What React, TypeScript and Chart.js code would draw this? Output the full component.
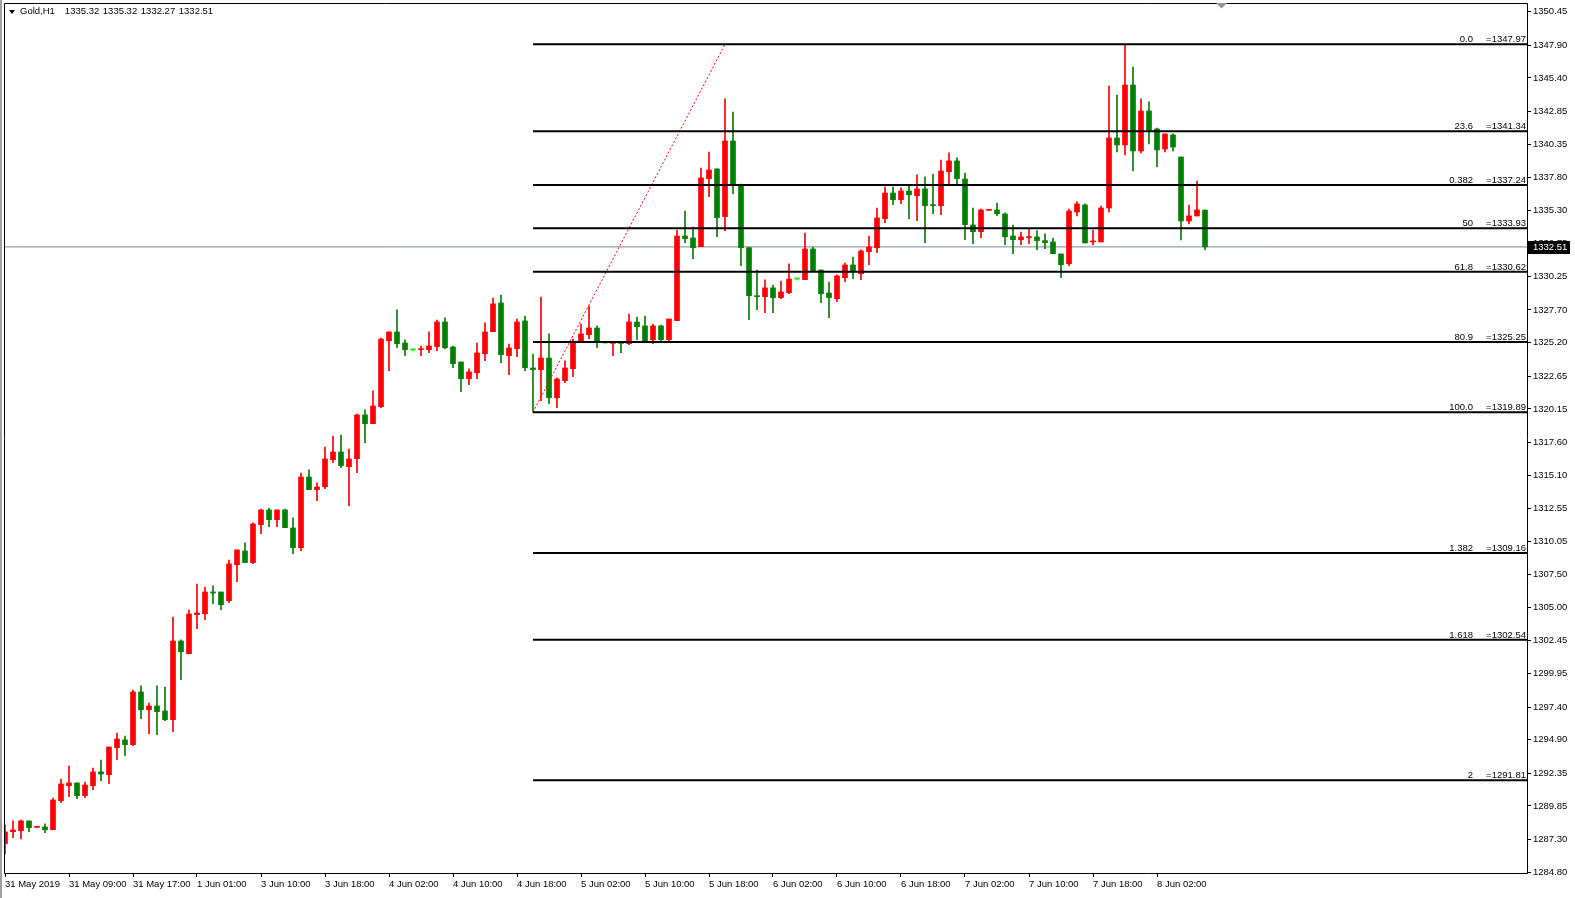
import React, { useEffect, useRef } from "react";
import { Chart, registerables } from "chart.js";

Chart.register(...registerables);

// ---- data ----
const opens = [
  1286.98, 1287.89, 1287.97, 1288.71, 1288.22, 1288.25, 1288.04, 1290.26, 1291.40, 1291.61,
  1290.64, 1291.40, 1292.45, 1292.24, 1294.30, 1294.89, 1294.53, 1298.55, 1297.20, 1297.48,
  1297.10, 1296.44, 1302.44, 1301.47, 1304.45, 1304.52, 1306.18, 1306.18, 1305.52, 1308.26,
  1309.31, 1308.42, 1311.32, 1312.44, 1311.70, 1312.44, 1311.06, 1309.56, 1314.95, 1313.99,
  1314.21, 1316.27, 1316.86, 1315.74, 1316.35, 1319.69, 1319.02, 1320.32, 1325.35, 1326.02,
  1325.18, 1324.65, 1324.67, 1324.67, 1324.90, 1326.78, 1324.87, 1323.73, 1322.46, 1322.91,
  1324.36, 1326.04, 1328.23, 1324.21, 1324.74, 1326.86, 1323.27, 1323.14, 1324.03, 1321.01,
  1322.30, 1323.22, 1325.28, 1325.81, 1326.32, 1325.18, 1325.15, 1325.20, 1325.13, 1326.78,
  1326.48, 1325.43, 1326.48, 1325.43, 1326.88, 1333.34, 1333.19, 1332.53, 1337.72, 1338.46,
  1334.82, 1340.59, 1337.16, 1332.45, 1328.79, 1328.71, 1329.38, 1328.64, 1329.02, 1330.06,
  1330.01, 1332.35, 1330.75, 1328.99, 1328.56, 1330.16, 1331.13, 1330.47, 1332.15, 1332.45,
  1334.66, 1336.62, 1336.11, 1336.78, 1336.42, 1336.93, 1335.71, 1335.66, 1338.25, 1339.07,
  1337.69, 1334.18, 1333.67, 1335.30, 1335.33, 1335.02, 1333.34, 1333.06, 1333.22, 1333.27,
  1332.99, 1332.89, 1331.97, 1331.23, 1335.17, 1335.71, 1332.89, 1332.89, 1335.48, 1340.82,
  1340.29, 1344.86, 1339.83, 1342.88, 1341.51, 1339.98, 1341.05, 1339.37, 1334.49, 1334.87,
  1335.32,
];
const highs = [
  1288.40, 1288.71, 1288.78, 1288.71, 1288.25, 1288.48, 1290.46, 1291.91, 1292.90, 1291.61,
  1291.68, 1292.75, 1293.36, 1294.35, 1295.42, 1295.19, 1298.70, 1299.01, 1297.71, 1299.01,
  1298.93, 1304.27, 1302.52, 1304.81, 1306.79, 1306.56, 1306.64, 1306.18, 1308.62, 1309.39,
  1309.92, 1311.45, 1312.51, 1312.59, 1312.44, 1312.51, 1311.83, 1315.26, 1315.49, 1314.50,
  1317.24, 1318.08, 1318.16, 1317.09, 1319.76, 1320.07, 1321.52, 1325.56, 1326.02, 1327.70,
  1325.41, 1324.72, 1324.95, 1326.02, 1326.93, 1327.09, 1324.95, 1323.73, 1323.20, 1325.18,
  1326.71, 1328.61, 1328.84, 1325.10, 1327.01, 1327.24, 1324.34, 1328.69, 1325.87, 1322.51,
  1323.81, 1325.48, 1326.63, 1328.00, 1326.48, 1325.25, 1325.20, 1325.20, 1327.39, 1327.16,
  1327.24, 1326.63, 1326.55, 1327.01, 1333.80, 1335.25, 1334.03, 1338.53, 1339.75, 1338.46,
  1343.80, 1342.80, 1337.31, 1332.45, 1330.75, 1329.99, 1329.60, 1329.91, 1331.21, 1330.14,
  1333.57, 1332.50, 1330.75, 1329.83, 1330.37, 1331.28, 1331.74, 1332.28, 1333.34, 1335.48,
  1337.08, 1337.08, 1337.01, 1337.16, 1338.00, 1337.85, 1338.07, 1339.14, 1339.68, 1339.30,
  1338.15, 1335.48, 1335.40, 1335.33, 1335.86, 1335.10, 1334.18, 1333.65, 1333.95, 1333.75,
  1333.50, 1333.19, 1331.97, 1335.40, 1335.94, 1335.79, 1333.80, 1335.63, 1344.79, 1344.10,
  1347.97, 1346.24, 1343.80, 1343.57, 1341.58, 1341.13, 1341.13, 1339.37, 1335.71, 1337.54,
  1335.32,
];
const lows = [
  1286.21, 1287.43, 1287.33, 1287.89, 1288.22, 1287.82, 1288.04, 1290.10, 1290.56, 1290.41,
  1290.49, 1291.10, 1291.78, 1291.55, 1293.39, 1293.69, 1294.45, 1296.51, 1295.37, 1295.29,
  1296.36, 1295.52, 1299.49, 1301.47, 1303.38, 1304.07, 1305.29, 1304.83, 1305.36, 1306.97,
  1308.42, 1308.34, 1310.63, 1311.16, 1311.16, 1311.09, 1309.10, 1309.33, 1313.99, 1313.15,
  1314.06, 1316.05, 1315.66, 1312.77, 1315.28, 1317.57, 1319.02, 1320.24, 1323.07, 1324.82,
  1324.21, 1324.57, 1324.21, 1324.44, 1324.59, 1324.74, 1323.29, 1321.46, 1322.00, 1322.46,
  1323.83, 1326.04, 1323.68, 1322.76, 1324.13, 1323.07, 1319.89, 1320.78, 1320.55, 1320.24,
  1322.15, 1322.61, 1325.28, 1325.51, 1324.82, 1325.15, 1324.21, 1324.44, 1325.05, 1325.43,
  1325.33, 1325.13, 1325.33, 1325.35, 1326.88, 1332.83, 1331.61, 1332.53, 1336.34, 1333.29,
  1333.75, 1336.57, 1331.08, 1326.96, 1327.72, 1327.49, 1327.49, 1328.56, 1328.94, 1329.99,
  1330.01, 1330.67, 1328.25, 1327.11, 1328.33, 1329.86, 1330.09, 1330.01, 1331.15, 1332.07,
  1334.36, 1335.73, 1335.81, 1334.66, 1334.51, 1332.83, 1335.04, 1334.97, 1337.33, 1337.33,
  1333.06, 1332.76, 1333.21, 1335.30, 1334.89, 1332.68, 1331.99, 1332.68, 1332.76, 1332.30,
  1332.37, 1331.99, 1330.16, 1331.08, 1334.87, 1332.81, 1332.66, 1332.89, 1335.17, 1339.75,
  1339.52, 1338.30, 1339.68, 1340.36, 1338.61, 1339.75, 1339.83, 1333.04, 1334.26, 1334.87,
  1332.27,
];
const closes = [
  1287.87, 1288.02, 1288.71, 1288.20, 1288.25, 1288.04, 1290.31, 1291.53, 1291.61, 1290.64,
  1291.45, 1292.45, 1292.29, 1294.35, 1294.96, 1294.53, 1298.55, 1297.20, 1297.48, 1297.05,
  1296.44, 1302.44, 1301.62, 1304.50, 1304.58, 1306.18, 1306.10, 1305.21, 1308.32, 1309.39,
  1308.42, 1311.37, 1312.44, 1311.70, 1312.44, 1311.09, 1309.56, 1314.95, 1313.99, 1314.19,
  1316.33, 1316.86, 1315.82, 1316.33, 1319.69, 1319.02, 1320.37, 1325.48, 1326.02, 1325.13,
  1324.67, 1324.65, 1324.72, 1324.95, 1326.78, 1324.82, 1323.60, 1322.46, 1322.97, 1324.42,
  1326.02, 1328.16, 1324.29, 1324.80, 1326.78, 1323.29, 1323.14, 1324.03, 1321.01, 1322.43,
  1323.27, 1325.26, 1325.87, 1326.32, 1325.20, 1325.18, 1325.18, 1325.15, 1326.78, 1326.42,
  1325.33, 1326.48, 1325.43, 1327.01, 1333.34, 1333.14, 1332.45, 1337.77, 1338.38, 1334.74,
  1340.59, 1337.26, 1332.45, 1328.79, 1328.71, 1329.38, 1328.64, 1329.07, 1330.06, 1330.06,
  1332.35, 1330.67, 1328.94, 1328.64, 1330.29, 1331.13, 1330.70, 1332.20, 1332.50, 1334.72,
  1336.62, 1336.11, 1336.78, 1336.49, 1336.93, 1335.66, 1335.66, 1338.30, 1339.07, 1337.72,
  1334.21, 1333.67, 1335.33, 1335.33, 1335.04, 1333.29, 1333.06, 1333.27, 1333.27, 1332.99,
  1332.83, 1331.99, 1331.15, 1335.25, 1335.79, 1332.81, 1332.96, 1335.48, 1340.82, 1340.29,
  1344.86, 1339.83, 1342.88, 1341.43, 1339.91, 1341.13, 1340.13, 1334.49, 1334.87, 1335.33,
  1332.51,
];

const xTickIndexes = [0, 8, 16, 24, 32, 40, 48, 56, 64, 72, 80, 88, 96, 104, 112, 120, 128, 136, 144];
const xTickLabels = [
  "31 May 2019", "31 May 09:00", "31 May 17:00", "1 Jun 01:00", "3 Jun 10:00", "3 Jun 18:00",
  "4 Jun 02:00", "4 Jun 10:00", "4 Jun 18:00", "5 Jun 02:00", "5 Jun 10:00", "5 Jun 18:00",
  "6 Jun 02:00", "6 Jun 10:00", "6 Jun 18:00", "7 Jun 02:00", "7 Jun 10:00", "7 Jun 18:00",
  "8 Jun 02:00",
];
const yTickValues = [
  1350.45, 1347.9, 1345.4, 1342.85, 1340.35, 1337.8, 1335.3, 1332.75, 1330.25, 1327.7,
  1325.2, 1322.65, 1320.15, 1317.6, 1315.1, 1312.55, 1310.05, 1307.5, 1305.0, 1302.45,
  1299.95, 1297.4, 1294.9, 1292.35, 1289.85, 1287.3, 1284.8,
];
const fibLevels = [1347.97, 1341.34, 1337.24, 1333.93, 1330.62, 1325.25, 1319.89, 1309.16, 1302.54, 1291.81];
const fibNames = ["0.0", "23.6", "0.382", "50", "61.8", "80.9", "100.0", "1.382", "1.618", "2"];
const fibStartIndex = 66;
const trendStartIndex = 66;
const trendEndIndex = 90;
const trendStartPrice = 1319.89;
const trendEndPrice = 1347.97;
const lastPrice = 1332.51;
const headerSymbol = "Gold,H1";
const headerValues = ["1335.32", "1335.32", "1332.27", "1332.51"];

// ---- view settings ----
const X_MIN = -0.125;
const X_MAX = 190.375;
const Y_MIN = 1284.66;
const Y_MAX = 1351.12;
const RED = "#ff0000";
const GREEN = "#008000";
const LIME = "#00ff00";
const FONT = "'Liberation Sans', Arial, sans-serif";
const FSIZE = 9.5;

function candleColor(i: number) {
  if (closes[i] > opens[i]) return RED;
  if (closes[i] < opens[i]) return GREEN;
  return LIME;
}

const overlayPlugin = {
  id: "mtOverlay",
  afterDatasetsDraw(chart: any) {
    const { ctx, chartArea, scales } = chart;
    const y = scales.y;
    ctx.save();
    ctx.font = `${FSIZE}px ${FONT}`;
    ctx.fillStyle = "#000";
    ctx.textAlign = "right";
    ctx.textBaseline = "alphabetic";
    fibLevels.forEach((lvl, k) => {
      const py = y.getPixelForValue(lvl);
      ctx.fillText(fibNames[k], chartArea.right - 55, py - 2);
      ctx.fillText("=" + lvl.toFixed(2), chartArea.right - 2, py - 2);
    });
    ctx.restore();
  },
  afterDraw(chart: any) {
    const { ctx, chartArea, scales } = chart;
    const y = scales.y;
    ctx.save();
    // frame
    ctx.strokeStyle = "#000";
    ctx.lineWidth = 1;
    const l = Math.floor(chartArea.left) + 0.5;
    const t = Math.floor(chartArea.top) + 0.5;
    const r = Math.round(chartArea.right) - 0.5;
    const b = Math.round(chartArea.bottom) - 0.5;
    ctx.beginPath();
    ctx.moveTo(l, t);
    ctx.lineTo(r, t);
    ctx.lineTo(r, b);
    ctx.lineTo(l, b);
    ctx.closePath();
    ctx.stroke();
    // chart shift marker
    ctx.fillStyle = "#8c96a0";
    ctx.beginPath();
    ctx.moveTo(1216, 3);
    ctx.lineTo(1227, 3);
    ctx.lineTo(1221.5, 8.5);
    ctx.closePath();
    ctx.fill();
    // current price box
    const py = Math.round(y.getPixelForValue(lastPrice));
    ctx.fillStyle = "#000";
    ctx.fillRect(Math.round(chartArea.right) - 1, py - 6, 43, 13);
    ctx.fillStyle = "#fff";
    ctx.font = `${FSIZE}px ${FONT}`;
    ctx.textAlign = "left";
    ctx.textBaseline = "middle";
    ctx.fillText(lastPrice.toFixed(2), chartArea.right + 5, py + 0.5);
    ctx.restore();
  },
};

export default function App() {
  const canvasRef = useRef<HTMLCanvasElement | null>(null);

  useEffect(() => {
    const canvas = canvasRef.current;
    if (!canvas) return;
    const idx = opens.map((_, i) => i);
    const colors = idx.map((i) => candleColor(i));

    const fibDatasets = fibLevels.map((lvl, k) => ({
      type: "line" as const,
      label: "fib " + fibNames[k],
      data: [
        { x: fibStartIndex, y: lvl },
        { x: X_MAX, y: lvl },
      ],
      borderColor: "#000",
      borderWidth: 2,
      pointRadius: 0,
      tension: 0,
      order: 0,
    }));

    const chart = new Chart(canvas, {
      type: "bar",
      data: {
        datasets: [
          ...fibDatasets,
          {
            type: "line",
            label: "fib trend",
            data: [
              { x: trendStartIndex, y: trendStartPrice },
              { x: trendEndIndex, y: trendEndPrice },
            ],
            borderColor: RED,
            borderWidth: 1,
            borderDash: [2, 2],
            pointRadius: 0,
            order: 0,
          },
          {
            type: "bar",
            label: "bodies",
            data: idx.map((i) => ({ x: i, y: [opens[i], closes[i]] })),
            backgroundColor: colors,
            borderWidth: 0,
            barThickness: 5,
            minBarLength: 1,
            grouped: false,
            order: 2,
          },
          {
            type: "bar",
            label: "wicks",
            data: idx.map((i) => ({ x: i, y: [lows[i], highs[i]] })),
            backgroundColor: colors,
            borderWidth: 0,
            barThickness: 1,
            minBarLength: 1,
            grouped: false,
            order: 3,
          },
          {
            type: "line",
            label: "bid",
            data: [
              { x: X_MIN, y: lastPrice },
              { x: X_MAX, y: lastPrice },
            ],
            borderColor: "#778899",
            borderWidth: 1,
            pointRadius: 0,
            order: 4,
          },
        ] as any,
      },
      options: {
        animation: false,
        responsive: false,
        maintainAspectRatio: false,
        events: [],
        layout: { padding: { left: 4, top: 3, right: 0, bottom: 0 } },
        plugins: {
          legend: { display: false },
          tooltip: { enabled: false },
          title: { display: false },
        },
        scales: {
          x: {
            type: "linear",
            min: X_MIN,
            max: X_MAX,
            offset: false,
            afterBuildTicks: (scale: any) => {
              scale.ticks = xTickIndexes.map((v) => ({ value: v }));
            },
            afterFit: (scale: any) => {
              scale.height = 24;
            },
            grid: {
              display: true,
              drawOnChartArea: false,
              drawTicks: true,
              tickLength: 3,
              color: "#000",
              offset: false,
            },
            border: { display: false },
            ticks: {
              autoSkip: false,
              maxRotation: 0,
              minRotation: 0,
              align: "start",
              padding: 2,
              color: "#000",
              font: { family: FONT, size: FSIZE },
              callback: (_v: any, i: number) => xTickLabels[i],
            },
          },
          y: {
            type: "linear",
            position: "right",
            min: Y_MIN,
            max: Y_MAX,
            afterBuildTicks: (scale: any) => {
              scale.ticks = yTickValues.map((v) => ({ value: v }));
            },
            afterFit: (scale: any) => {
              scale.width = 47;
            },
            grid: {
              display: true,
              drawOnChartArea: false,
              drawTicks: true,
              tickLength: 3,
              color: "#000",
            },
            border: { display: false },
            ticks: {
              autoSkip: false,
              padding: 2,
              color: "#000",
              font: { family: FONT, size: FSIZE, lineHeight: 0.1 },
              callback: (v: any) => Number(v).toFixed(2),
            },
          },
        },
      } as any,
      plugins: [overlayPlugin],
    });

    return () => chart.destroy();
  }, []);

  return (
    <div
      style={{
        position: "fixed",
        left: 0,
        top: 0,
        width: 1575,
        height: 898,
        background: "#fff",
        overflow: "hidden",
      }}
    >
      <canvas
        ref={canvasRef}
        width={1575}
        height={898}
        style={{ position: "absolute", left: 0, top: 0, width: 1575, height: 898 }}
      />
      <div style={{ position: "absolute", left: 0, top: 0, width: 2, height: 898, background: "#a0a0a0" }} />
      <div
        style={{
          position: "absolute",
          left: 9,
          top: 10,
          width: 0,
          height: 0,
          borderLeft: "3px solid transparent",
          borderRight: "3px solid transparent",
          borderTop: "4px solid #000",
        }}
      />
      <div
        style={{
          position: "absolute",
          left: 20,
          top: 6,
          font: `${FSIZE}px ${FONT}`,
          lineHeight: "10px",
          color: "#000",
          whiteSpace: "pre",
        }}
      >
        <span>{headerSymbol}</span>
        <span style={{ marginLeft: 10, wordSpacing: 1 }}>{headerValues.join(" ")}</span>
      </div>
    </div>
  );
}
